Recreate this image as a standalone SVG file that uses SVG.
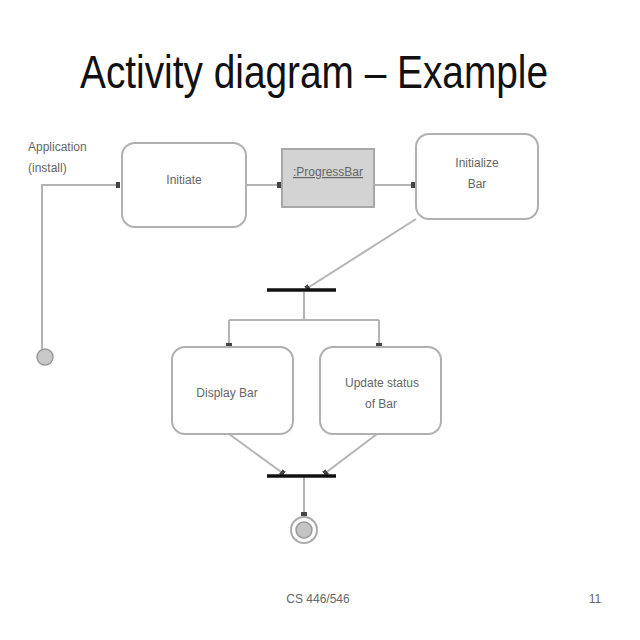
<svg xmlns="http://www.w3.org/2000/svg" width="640" height="640" viewBox="0 0 640 640">
<style>
.t{font-family:"Liberation Sans",Arial,sans-serif;fill:#666;font-size:12px}
.box{fill:#fff;stroke:#b0b0b0;stroke-width:2}
.c{fill:none;stroke:#b4b4b4;stroke-width:2}
.bar{stroke:#111;stroke-width:3.5}
</style>
<defs>
<marker id="a" markerWidth="4" markerHeight="6" refX="4" refY="3" orient="auto" markerUnits="userSpaceOnUse">
<rect x="0" y="0" width="4" height="6" fill="#444"/>
</marker>
</defs>
<rect width="640" height="640" fill="#fff"/>
<text x="80" y="88" textLength="468" lengthAdjust="spacingAndGlyphs" font-family="Liberation Sans,Arial,sans-serif" font-size="46" fill="#111">Activity diagram – Example</text>
<g id="connectors">
<path class="c" d="M42 357 V185 H120" marker-end="url(#a)"/>
<path class="c" d="M246 185 H281" marker-end="url(#a)"/>
<path class="c" d="M374 185 H415" marker-end="url(#a)"/>
<path class="c" d="M416 219 L306 289" marker-end="url(#a)"/>
<path class="c" d="M304 292 V320 M229 320 H379 M229 320 V346 M379 320 V346"/>
<path class="c" d="M229 346 V347" marker-end="url(#a)"/>
<path class="c" d="M379 346 V347" marker-end="url(#a)"/>
<path class="c" d="M229 434 L284 474" marker-end="url(#a)"/>
<path class="c" d="M377 434 L324 474" marker-end="url(#a)"/>
<path class="c" d="M304 477 V516" marker-end="url(#a)"/>
</g>
<g id="start">
<text class="t" x="28" y="151">Application</text>
<text class="t" x="28" y="172">(install)</text>
<circle cx="45" cy="357" r="8" fill="#c8c8c8" stroke="#999" stroke-width="1.5"/>
</g>
<g id="initiate">
<rect class="box" x="122" y="143" width="124" height="84" rx="13"/>
<text class="t" x="184" y="184" text-anchor="middle">Initiate</text>
</g>
<g id="progressbar">
<rect x="282" y="149" width="92" height="58" fill="#d3d3d3" stroke="#a8a8a8" stroke-width="2"/>
<text class="t" x="328" y="176" text-anchor="middle" text-decoration="underline">:ProgressBar</text>
</g>
<g id="initialize">
<rect class="box" x="416" y="134" width="122" height="85" rx="13"/>
<text class="t" x="477" y="167" text-anchor="middle">Initialize</text>
<text class="t" x="477" y="188" text-anchor="middle">Bar</text>
</g>
<g id="fork">
<line class="bar" x1="267" y1="290" x2="336" y2="290"/>
</g>
<g id="display">
<rect class="box" x="172" y="347" width="121" height="87" rx="13"/>
<text class="t" x="227" y="397" text-anchor="middle">Display Bar</text>
</g>
<g id="update">
<rect class="box" x="320" y="347" width="121" height="87" rx="13"/>
<text class="t" x="382" y="387" text-anchor="middle">Update status</text>
<text class="t" x="381" y="408" text-anchor="middle">of Bar</text>
</g>
<g id="join">
<line class="bar" x1="267" y1="476" x2="336" y2="476"/>
</g>
<g id="final">
<circle cx="304" cy="530" r="13" fill="#fff" stroke="#aaa" stroke-width="2"/>
<circle cx="304" cy="530" r="8" fill="#c4c4c4" stroke="#999" stroke-width="1.5"/>
</g>
<text class="t" x="318" y="603" text-anchor="middle" font-size="11">CS 446/546</text>
<text class="t" x="595" y="603" text-anchor="middle" font-size="11">11</text>
</svg>
